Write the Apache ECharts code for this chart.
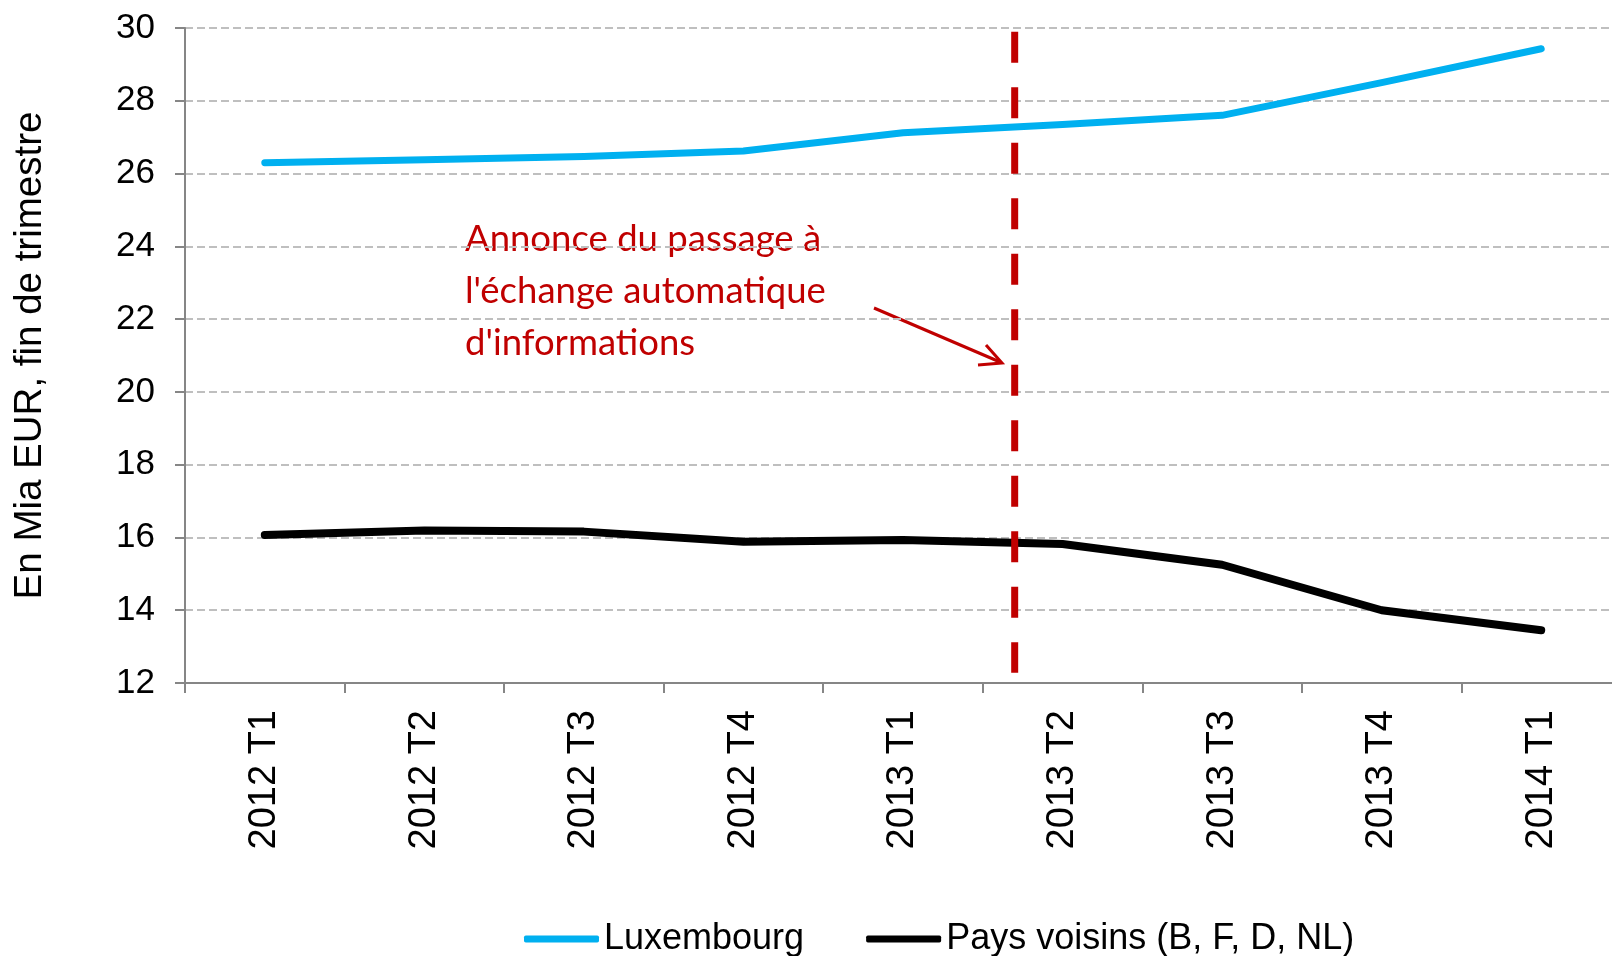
<!DOCTYPE html>
<html>
<head>
<meta charset="utf-8">
<script src="https://cdn.jsdelivr.net/npm/echarts@6/dist/echarts.min.js"></script>
<style>
  html, body { margin: 0; padding: 0; background: #fff; }
  #chart { width: 1612px; height: 956px; }
</style>
</head>
<body>
<div id="chart"></div>
<script>
var quarters = ['2012 T1', '2012 T2', '2012 T3', '2012 T4', '2013 T1', '2013 T2', '2013 T3', '2013 T4', '2014 T1'];
var luxembourg = [26.3, 26.38, 26.47, 26.62, 27.12, 27.35, 27.6, 28.5, 29.43];
var voisins = [16.07, 16.19, 16.16, 15.88, 15.93, 15.82, 15.25, 14.0, 13.45];
// announcement marker, in category units counted from the left edge
var announce = [[5.2, 29.9], [5.2, 12.28]];
var noteLines = ['Annonce du passage à', "l'échange automatique", "d'informations"];

document.addEventListener("DOMContentLoaded", () => {
    var font = '"Liberation Sans", Arial, sans-serif';
    var chart = echarts.init(document.querySelector("#chart"));
    chart.setOption({
        animation: false,
        grid: {
            left: 185,
            top: 28,
            width: 1436,
            height: 655,
            outerBoundsMode: 'none'
        },
        legend: {
            left: 519,
            top: 914,
            itemWidth: 75,
            itemHeight: 7,
            itemGap: 62,
            icon: 'roundRect',
            data: ['Luxembourg', 'Pays voisins (B, F, D, NL)'],
            textStyle: {
                fontFamily: font,
                fontSize: 36,
                color: '#000',
                lineHeight: 40
            }
        },
        xAxis: [{
            type: 'category',
            data: quarters,
            boundaryGap: true,
            axisLine: { lineStyle: { color: '#868686', width: 2 } },
            axisTick: { show: true, length: 10, interval: 0, lineStyle: { color: '#868686', width: 2 } },
            axisLabel: {
                rotate: 90,
                margin: 27,
                interval: 0,
                fontFamily: font,
                fontSize: 38,
                color: '#000'
            }
        }, {
            type: 'value',
            min: 0,
            max: 9,
            show: false
        }],
        yAxis: {
            type: 'value',
            min: 12,
            max: 30,
            interval: 2,
            name: 'En Mia EUR, fin de trimestre',
            nameLocation: 'middle',
            nameGap: 135,
            nameTextStyle: { fontFamily: font, fontSize: 38.5, color: '#000' },
            axisLine: { show: true, lineStyle: { color: '#868686', width: 2 } },
            axisTick: { show: true, length: 10, lineStyle: { color: '#868686', width: 2 } },
            axisLabel: { margin: 30, fontFamily: font, fontSize: 35, color: '#000' },
            splitLine: { lineStyle: { color: '#BFBFBF', width: 2, type: [8, 4] } }
        },
        series: [{
            name: 'Luxembourg',
            type: 'line',
            data: luxembourg,
            color: '#00B0F0',
            showSymbol: false,
            lineStyle: { width: 7, cap: 'round', join: 'round' }
        }, {
            name: 'Pays voisins (B, F, D, NL)',
            type: 'line',
            data: voisins,
            color: '#000000',
            showSymbol: false,
            lineStyle: { width: 8, cap: 'round', join: 'round' }
        }, {
            name: 'annonce',
            type: 'line',
            xAxisIndex: 1,
            data: announce,
            color: '#C00000',
            showSymbol: false,
            silent: true,
            lineStyle: { width: 7, type: [31, 24.5] }
        }],
        graphic: [{
            type: 'text',
            left: 465,
            top: 213,
            style: {
                text: noteLines.join('\n'),
                fill: '#C00000',
                font: '36.5px Lato, "Open Sans", sans-serif',
                lineHeight: 52
            }
        }, {
            type: 'line',
            shape: { x1: 874, y1: 308, x2: 1000, y2: 362 },
            style: { stroke: '#C00000', lineWidth: 3 }
        }, {
            type: 'polyline',
            shape: { points: [[978, 365], [1002, 363], [986, 345]] },
            style: { stroke: '#C00000', lineWidth: 3, fill: null }
        }]
    });
});
</script>
</body>
</html>
